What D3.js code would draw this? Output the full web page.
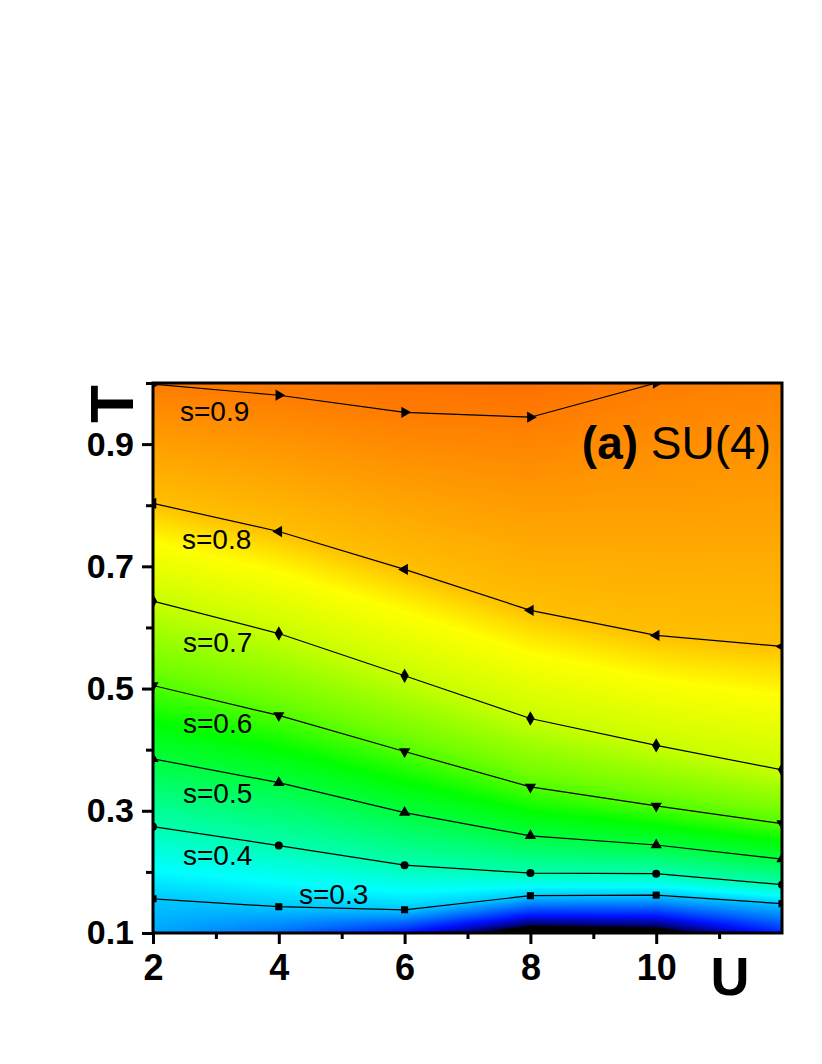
<!DOCTYPE html>
<html>
<head>
<meta charset="utf-8">
<script src="https://cdn.jsdelivr.net/npm/d3@7"></script>
<style>
  body { margin: 0; background: #fff; }
  text { font-family: Arial, "Liberation Sans", sans-serif; }
  image { image-rendering: pixelated; }
</style>
</head>
<body>
<div id="chart"></div>
<script>
// U values where the isentropes were sampled
const uVals = [2, 4, 6, 8, 10, 12];
// T of each isentrope at the U values above
const sLevels = [0.3, 0.4, 0.5, 0.6, 0.7, 0.8, 0.9];
const T_s03 = [0.156, 0.143, 0.138, 0.161, 0.162, 0.148];
const T_s04 = [0.274, 0.243, 0.211, 0.198, 0.197, 0.179];
const T_s05 = [0.385, 0.346, 0.297, 0.259, 0.244, 0.221];
const T_s06 = [0.505, 0.456, 0.397, 0.339, 0.308, 0.279];
const T_s07 = [0.643, 0.590, 0.521, 0.451, 0.407, 0.367];
const T_s08 = [0.803, 0.757, 0.695, 0.628, 0.587, 0.569];
const T_s09 = [0.998, 0.980, 0.952, 0.944, 1.000, 1.040];
// entropy at the lower edge (T=0.1) and just above the top edge (T=1.06)
const sBottom = [0.28, 0.25, 0.20, 0.115, 0.125, 0.21];
const sTop = [0.925, 0.935, 0.945, 0.95, 0.925, 0.905];
// colour ramp for the background
const rampS = [0.10, 0.148, 0.155, 0.20, 0.25, 0.30, 0.34, 0.40, 0.47, 0.55, 0.62, 0.70, 0.76, 0.80, 0.86, 0.90, 0.96];
const rampC = ["#000000", "#000000", "#000060", "#0010ff", "#0070ff", "#00c8ff", "#00ffff", "#00ffb0",
               "#00ff60", "#00ff00", "#70ff00", "#c8ff00", "#ffff00", "#ffc000", "#ff9800", "#ff7c00", "#ff5c00"];

const xTicks = [2, 4, 6, 8, 10];
const xMinor = [3, 5, 7, 9, 11];
const yTicks = [0.1, 0.3, 0.5, 0.7, 0.9];
const yMinor = [0.2, 0.4, 0.6, 0.8, 1.0];

const series = [
  { s: 0.9, T: T_s09, marker: "tri-right", label: "s=0.9", lx: 180, ly: 421 },
  { s: 0.8, T: T_s08, marker: "tri-left",  label: "s=0.8", lx: 182, ly: 549 },
  { s: 0.7, T: T_s07, marker: "diamond",   label: "s=0.7", lx: 183, ly: 652 },
  { s: 0.6, T: T_s06, marker: "tri-down",  label: "s=0.6", lx: 183, ly: 733 },
  { s: 0.5, T: T_s05, marker: "tri-up",    label: "s=0.5", lx: 183, ly: 803 },
  { s: 0.4, T: T_s04, marker: "circle",    label: "s=0.4", lx: 183, ly: 865 },
  { s: 0.3, T: T_s03, marker: "square",    label: "s=0.3", lx: 299, ly: 904 }
];

const margin = { top: 383, left: 153 };
const width = 629, height = 550;

const x = d3.scaleLinear().domain([2, 12]).range([0, width]);
const y = d3.scaleLinear().domain([0.1, 1.0]).range([height, 0]);
const color = d3.scaleLinear().domain(rampS).range(rampC).interpolate(d3.interpolateRgb).clamp(true);

const svg = d3.select("#chart").append("svg")
    .attr("width", 822)
    .attr("height", 1064);

const g = svg.append("g")
    .attr("transform", "translate(" + margin.left + "," + margin.top + ")");

// ---- background field s(U,T), built from the isentropes ----
const allT = [T_s03, T_s04, T_s05, T_s06, T_s07, T_s08, T_s09];
function atU(arr, u) {
  const i = Math.min(Math.max(d3.bisectRight(uVals, u) - 1, 0), uVals.length - 2);
  const f = (u - uVals[i]) / (uVals[i + 1] - uVals[i]);
  return arr[i] + f * (arr[i + 1] - arr[i]);
}
const canvas = document.createElement("canvas");
canvas.width = width; canvas.height = height;
const ctx = canvas.getContext("2d");
const img = ctx.createImageData(width, height);
const lut = d3.range(1001).map(i => d3.rgb(color(i / 1000)));
for (let px = 0; px < width; px++) {
  const u = x.invert(px + 0.5);
  const ts = [0.1].concat(allT.map(a => atU(a, u)), [1.06]);
  const ss = [atU(sBottom, u)].concat(sLevels, [atU(sTop, u)]);
  for (let py = 0; py < height; py++) {
    const t = y.invert(py + 0.5);
    let k = 0;
    while (k < ts.length - 2 && t > ts[k + 1]) k++;
    const f = (t - ts[k]) / (ts[k + 1] - ts[k]);
    const s = ss[k] + f * (ss[k + 1] - ss[k]);
    const c = lut[Math.round(Math.max(0, Math.min(1, s)) * 1000)];
    const o = (py * width + px) * 4;
    img.data[o] = c.r; img.data[o + 1] = c.g; img.data[o + 2] = c.b; img.data[o + 3] = 255;
  }
}
ctx.putImageData(img, 0, 0);

g.append("image")
    .attr("width", width)
    .attr("height", height)
    .attr("preserveAspectRatio", "none")
    .attr("href", canvas.toDataURL());

svg.append("defs").append("clipPath").attr("id", "clip")
  .append("rect").attr("width", width).attr("height", height);

// ---- contour lines and markers ----
const line = d3.line().x((d, i) => x(uVals[i])).y(d => y(d));
const plot = g.append("g").attr("clip-path", "url(#clip)");

const symType = { "tri-right": d3.symbolTriangle, "tri-left": d3.symbolTriangle, "tri-down": d3.symbolTriangle,
                  "tri-up": d3.symbolTriangle, "diamond": d3.symbolDiamond, "circle": d3.symbolCircle, "square": d3.symbolSquare };
const symRot = { "tri-right": 90, "tri-left": -90, "tri-down": 180 };
const symSize = { "diamond": 60, "circle": 50, "square": 50 };

series.forEach(function(d) {
  plot.append("path")
      .datum(d.T)
      .attr("fill", "none")
      .attr("stroke", "#000")
      .attr("stroke-width", 1.2)
      .attr("d", line);

  plot.selectAll(null)
      .data(d.T)
    .enter().append("path")
      .attr("d", d3.symbol().type(symType[d.marker]).size(symSize[d.marker] || 55))
      .attr("transform", (t, i) => "translate(" + x(uVals[i]) + "," + y(t) + ") rotate(" + (symRot[d.marker] || 0) + ")")
      .attr("fill", "#000");

  svg.append("text")
      .attr("x", d.lx)
      .attr("y", d.ly)
      .style("font-size", "28px")
      .text(d.label);
});

// ---- axes ----
const xAxis = g.append("g")
    .attr("transform", "translate(0," + height + ")")
    .call(d3.axisBottom(x).tickValues(xTicks).tickSize(11).tickPadding(10).tickFormat(d3.format("d")));
g.append("g")
    .attr("transform", "translate(0," + height + ")")
    .call(d3.axisBottom(x).tickValues(xMinor).tickSize(6).tickFormat(""));

const yAxis = g.append("g")
    .call(d3.axisLeft(y).tickValues(yTicks).tickSize(11).tickPadding(8).tickFormat(d3.format(".1f")));
g.append("g")
    .call(d3.axisLeft(y).tickValues(yMinor).tickSize(7).tickFormat(""));

g.selectAll(".domain").remove();
g.selectAll(".tick line").attr("stroke", "#000").attr("stroke-width", 3);
xAxis.selectAll("text").style("font-size", "36px").style("font-weight", "bold").attr("fill", "#000");
yAxis.selectAll("text").style("font-size", "34px").style("font-weight", "bold").attr("fill", "#000");

// frame
g.append("rect")
    .attr("width", width)
    .attr("height", height)
    .attr("fill", "none")
    .attr("stroke", "#000")
    .attr("stroke-width", 3);

// axis titles
svg.append("text")
    .attr("transform", "translate(133,404) rotate(-90)")
    .style("text-anchor", "middle")
    .style("font-size", "62px")
    .style("font-weight", "bold")
    .text("T");

svg.append("text")
    .attr("x", 730)
    .attr("y", 995)
    .style("text-anchor", "middle")
    .style("font-size", "54px")
    .style("font-weight", "bold")
    .text("U");

// panel label
const title = svg.append("text")
    .attr("x", 771)
    .attr("y", 459)
    .style("text-anchor", "end")
    .style("font-size", "46px");
title.append("tspan").style("font-weight", "bold").text("(a)");
title.append("tspan").text(" SU(4)");
</script>
</body>
</html>
